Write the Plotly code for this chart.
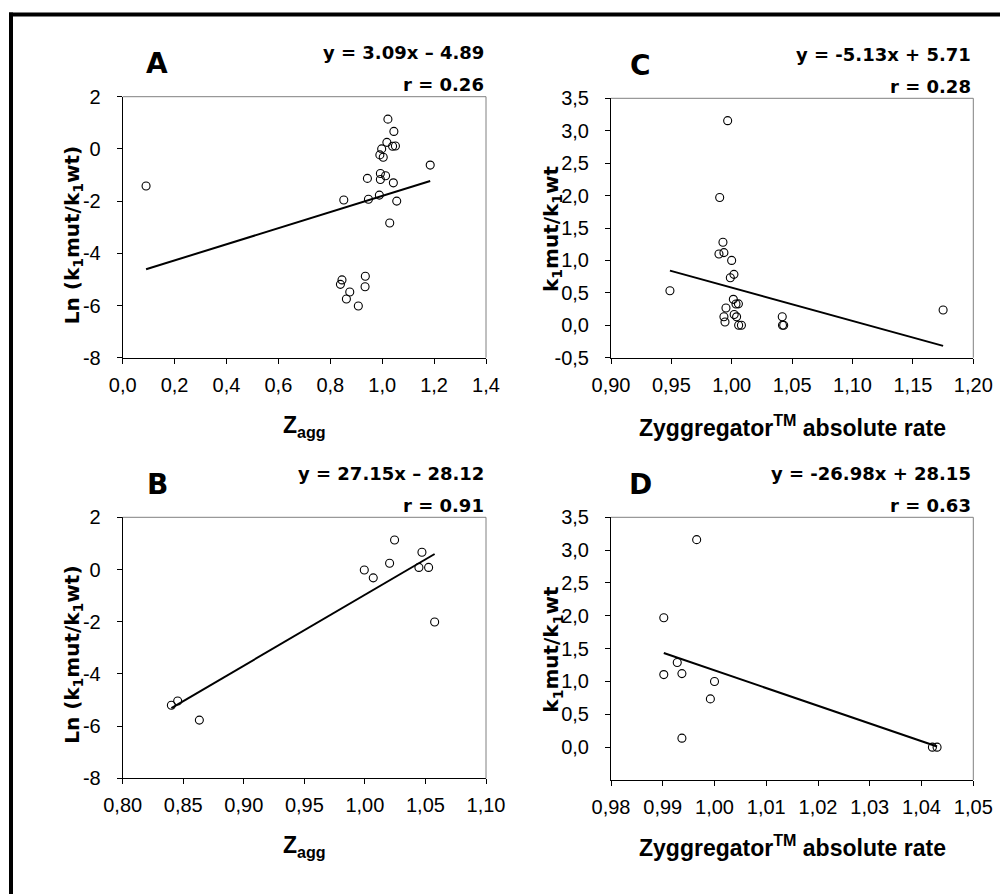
import plotly.graph_objects as go

W, H = 1000, 894

# ---------------- data ----------------
# Panel A: Zagg vs Ln(k1mut/k1wt)
a_x = [0.09, 1.022, 1.045, 1.018, 1.040, 1.051, 0.998, 0.991, 1.004, 1.185, 0.993, 1.013,
       0.993, 0.943, 1.043, 0.852, 0.947, 0.989, 1.056, 1.029, 0.845, 0.839, 0.935, 0.934,
       0.875, 0.862, 0.908]
a_y = [-1.42, 1.14, 0.67, 0.25, 0.10, 0.11, 0.00, -0.23, -0.32, -0.62, -0.94, -1.03,
       -1.17, -1.13, -1.30, -1.96, -1.93, -1.77, -2.00, -2.84, -5.02, -5.19, -4.88, -5.28,
       -5.48, -5.75, -6.02]
# Panel C: Zyggregator absolute rate vs k1mut/k1wt
c_x = [0.9966, 0.9900, 0.9927, 0.9894, 0.9935, 0.9999, 1.0018, 0.9988, 0.9488, 1.0013,
       1.0035, 1.0055, 0.9952, 0.9935, 0.9944, 1.0020, 1.0040, 1.0057, 1.0080, 1.0418,
       1.0420, 1.0430, 1.1750]
c_y = [3.155, 1.97, 1.28, 1.10, 1.12, 1.00, 0.785, 0.734, 0.533, 0.40,
       0.328, 0.33, 0.266, 0.132, 0.05, 0.165, 0.13, 0.00, 0.00, 0.132,
       0.00, 0.00, 0.235]
# Panel B
b_x = [0.8402, 0.8454, 0.8633, 0.9995, 1.0069, 1.0204, 1.0245, 1.0446, 1.0471, 1.0526, 1.0576]
b_y = [-5.20, -5.04, -5.77, -0.02, -0.32, 0.24, 1.13, 0.08, 0.66, 0.08, -2.01]
# Panel D
d_x = [0.99655, 0.9902, 0.9902, 0.9928, 0.9937, 1.0000, 0.9992, 0.9937, 1.0421, 1.0430]
d_y = [3.16, 1.97, 1.105, 1.29, 1.12, 1.00, 0.735, 0.137, 0.00, 0.00]

# regression coefficients (slope, intercept) and r
fit_slope = {"A": 3.09, "B": 27.15, "C": -5.13, "D": -26.98}
fit_icpt = {"A": -4.89, "B": -28.12, "C": 5.71, "D": 28.15}
eq_text = {"A": "y = 3.09x – 4.89", "B": "y = 27.15x – 28.12",
           "C": "y = -5.13x + 5.71", "D": "y = -26.98x + 28.15"}
r_text = {"A": "r = 0.26", "B": "r = 0.91", "C": "r = 0.28", "D": "r = 0.63"}

# tick values / labels
a_xtick_vals = [0.0, 0.2, 0.4, 0.6, 0.8, 1.0, 1.2, 1.4]
a_xtick_text = ["0,0", "0,2", "0,4", "0,6", "0,8", "1,0", "1,2", "1,4"]
ln_ytick_vals = [-8, -6, -4, -2, 0, 2]
ln_ytick_text = ["-8", "-6", "-4", "-2", "0", "2"]
c_xtick_vals = [0.90, 0.95, 1.00, 1.05, 1.10, 1.15, 1.20]
c_xtick_text = ["0,90", "0,95", "1,00", "1,05", "1,10", "1,15", "1,20"]
c_ytick_vals = [-0.5, 0.0, 0.5, 1.0, 1.5, 2.0, 2.5, 3.0, 3.5]
c_ytick_text = ["-0,5", "0,0", "0,5", "1,0", "1,5", "2,0", "2,5", "3,0", "3,5"]
b_xtick_vals = [0.80, 0.85, 0.90, 0.95, 1.00, 1.05, 1.10]
b_xtick_text = ["0,80", "0,85", "0,90", "0,95", "1,00", "1,05", "1,10"]
d_xtick_vals = [0.98, 0.99, 1.00, 1.01, 1.02, 1.03, 1.04, 1.05]
d_xtick_text = ["0,98", "0,99", "1,00", "1,01", "1,02", "1,03", "1,04", "1,05"]
d_ytick_vals = [0.0, 0.5, 1.0, 1.5, 2.0, 2.5, 3.0, 3.5]
d_ytick_text = ["0,0", "0,5", "1,0", "1,5", "2,0", "2,5", "3,0", "3,5"]

LN_TITLE = "Ln (k<sub>1</sub>mut/k<sub>1</sub>wt)"
K_TITLE = "k<sub>1</sub>mut/k<sub>1</sub>wt"
Z_TITLE = "Z<sub>agg</sub>"
ZY_TITLE = "Zyggregator<sup>TM</sup> absolute rate"

panels = [
    dict(key="A", xs=a_x, ys=a_y, box=(122.7, 486, 96.7, 357.7), xr=[0, 1.4], yr=[-8, 2],
         xtv=a_xtick_vals, xtt=a_xtick_text, ytv=ln_ytick_vals, ytt=ln_ytick_text,
         xtitle=Z_TITLE, ytitle=LN_TITLE, ytx=73, yty=8),
    dict(key="C", xs=c_x, ys=c_y, box=(611, 973.3, 98.3, 357.7), xr=[0.9, 1.2], yr=[-0.5, 3.5],
         xtv=c_xtick_vals, xtt=c_xtick_text, ytv=c_ytick_vals, ytt=c_ytick_text,
         xtitle=ZY_TITLE, ytitle=K_TITLE, ytx=552, yty=1),
    dict(key="B", xs=b_x, ys=b_y, box=(122.7, 486, 517.3, 778.3), xr=[0.8, 1.1], yr=[-8, 2],
         xtv=b_xtick_vals, xtt=b_xtick_text, ytv=ln_ytick_vals, ytt=ln_ytick_text,
         xtitle=Z_TITLE, ytitle=LN_TITLE, ytx=73, yty=7),
    dict(key="D", xs=d_x, ys=d_y, box=(611, 973.3, 517.3, 780), xr=[0.98, 1.05], yr=[-0.5, 3.5],
         xtv=d_xtick_vals, xtt=d_xtick_text, ytv=d_ytick_vals, ytt=d_ytick_text,
         xtitle=ZY_TITLE, ytitle=K_TITLE, ytx=552, yty=1),
]

TICKFONT = dict(family="Liberation Sans, Arial, sans-serif", size=20, color="black")
EQFONT = dict(family="DejaVu Sans, Verdana, sans-serif", size=18, color="black")
LETTERFONT = dict(family="DejaVu Sans, Verdana, sans-serif", size=28, color="black")
XTFONT = dict(family="Liberation Sans, Arial, sans-serif", size=23, color="black")
YTFONT = dict(family="DejaVu Sans, Verdana, sans-serif", size=20, color="black")


def px(p):
    return p / W


def py(p):
    return 1 - p / H


fig = go.Figure()
layout = {}
annotations = []
shapes = []

for i, p in enumerate(panels):
    n = "" if i == 0 else str(i + 1)
    xa, ya = "x" + n, "y" + n
    x0, x1, y0, y1 = p["box"]
    k = p["key"]

    fig.add_trace(go.Scatter(
        x=p["xs"], y=p["ys"], mode="markers", xaxis=xa, yaxis=ya, showlegend=False,
        marker=dict(symbol="circle-open", size=8, color="black", line=dict(width=1.1)),
        cliponaxis=False))
    lx = [min(p["xs"]), max(p["xs"])]
    ly = [fit_slope[k] * v + fit_icpt[k] for v in lx]
    fig.add_trace(go.Scatter(
        x=lx, y=ly, mode="lines", xaxis=xa, yaxis=ya, showlegend=False,
        line=dict(color="black", width=2)))

    common = dict(showline=True, linecolor="black", linewidth=1, ticks="outside",
                  ticklen=5, tickwidth=1, tickcolor="black", showgrid=False,
                  zeroline=False, tickfont=TICKFONT, fixedrange=True, automargin=False)
    layout["xaxis" + n] = dict(domain=[px(x0), px(x1)], range=p["xr"], tickvals=p["xtv"],
                               ticktext=p["xtt"], anchor=ya, ticklabelstandoff=4, **common)
    layout["yaxis" + n] = dict(domain=[py(y1), py(y0)], range=p["yr"], tickvals=p["ytv"],
                               ticktext=p["ytt"], anchor=xa, ticklabelstandoff=12, **common)

    # gray top/right frame of the plot area
    for (sx0, sy0, sx1, sy1) in [(0, 1, 1, 1), (1, 0, 1, 1)]:
        shapes.append(dict(type="line", xref=xa + " domain", yref=ya + " domain",
                           x0=sx0, y0=sy0, x1=sx1, y1=sy1,
                           line=dict(color="#808080", width=1)))

    # texts
    annotations.append(dict(text="<b>" + eq_text[k] + "</b>", xref="paper", yref="paper",
                            x=px(x1), y=py(y0 - 44), xanchor="right", yanchor="middle",
                            showarrow=False, font=EQFONT))
    annotations.append(dict(text="<b>" + r_text[k] + "</b>", xref="paper", yref="paper",
                            x=px(x1), y=py(y0 - 12), xanchor="right", yanchor="middle",
                            showarrow=False, font=EQFONT))
    lxp = 157 if x0 < 300 else 640
    annotations.append(dict(text="<b>" + k + "</b>", xref="paper", yref="paper",
                            x=px(lxp), y=py(y0 - 33), xanchor="center", yanchor="middle",
                            showarrow=False, font=LETTERFONT))
    annotations.append(dict(text="<b>" + p["xtitle"] + "</b>", xref="paper", yref="paper",
                            x=px((x0 + x1) / 2), y=py(358 + 68 if y0 < 300 else 778 + 68),
                            xanchor="center", yanchor="middle",
                            showarrow=False, font=XTFONT))
    annotations.append(dict(text="<b>" + p["ytitle"] + "</b>", xref="paper", yref="paper",
                            x=px(p["ytx"]), y=py((y0 + y1) / 2 + p["yty"]), xanchor="center",
                            yanchor="middle", textangle=-90,
                            showarrow=False, font=YTFONT))

# outer frame (left and top)
shapes.append(dict(type="line", xref="paper", yref="paper", x0=px(11), x1=px(11),
                   y0=0, y1=py(12.5), line=dict(color="black", width=4)))
shapes.append(dict(type="line", xref="paper", yref="paper", x0=px(9), x1=1,
                   y0=py(14.5), y1=py(14.5), line=dict(color="black", width=4)))

fig.update_layout(
    width=W, height=H, margin=dict(l=0, r=0, t=0, b=0, pad=0, autoexpand=False),
    paper_bgcolor="white", plot_bgcolor="white", showlegend=False,
    annotations=annotations, shapes=shapes, **layout)

fig.write_html("out.html")
